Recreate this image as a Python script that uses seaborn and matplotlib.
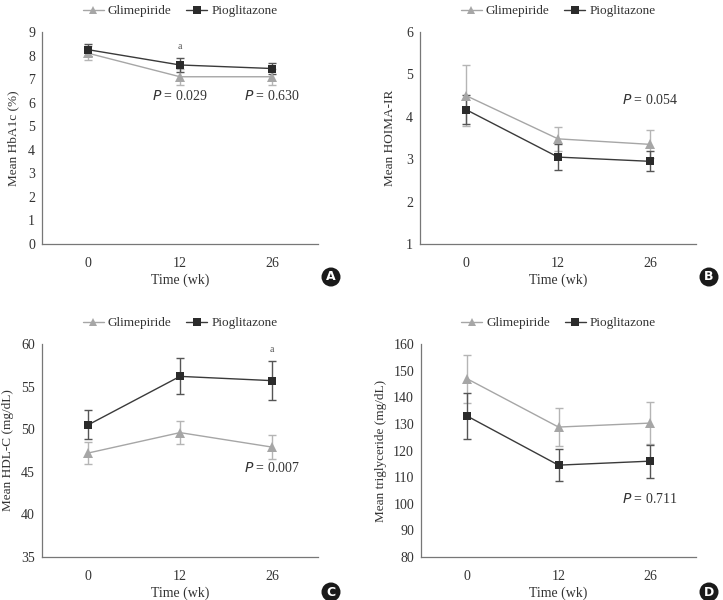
import matplotlib
matplotlib.use("Agg")
import matplotlib.pyplot as plt
import seaborn as sns
import pandas as pd
import numpy as np

sns.set_style("white")
plt.rcParams['font.family'] = ['Liberation Serif', 'DejaVu Serif']

weeks = ["0", "12", "26"]
groups = ["Glimepiride", "Pioglitazone"]

# Panel A: HbA1c
a_glim = [8.1, 7.1, 7.1]
a_glim_err = [0.3, 0.35, 0.35]
a_pio = [8.25, 7.6, 7.45]
a_pio_err = [0.25, 0.28, 0.25]

# Panel B: HOMA-IR
b_glim = [4.5, 3.48, 3.35]
b_glim_err = [0.72, 0.29, 0.33]
b_pio = [4.17, 3.05, 2.95]
b_pio_err = [0.34, 0.3, 0.24]

# Panel C: HDL-C
c_glim = [47.2, 49.6, 47.9]
c_glim_err = [1.3, 1.35, 1.4]
c_pio = [50.5, 56.2, 55.7]
c_pio_err = [1.7, 2.1, 2.3]

# Panel D: triglyceride
d_glim = [147.0, 128.8, 130.3]
d_glim_err = [9.0, 7.0, 7.8]
d_pio = [133.0, 114.5, 116.0]
d_pio_err = [8.5, 6.0, 6.2]

panels = [
    dict(letter="A", glim=a_glim, ge=a_glim_err, pio=a_pio, pe=a_pio_err,
         ylabel="Mean HbA1c (%)", ylim=(0, 9), yticks=list(range(0, 10)),
         pvals=[(1, 6.3, "0.029"), (2, 6.3, "0.630")], amark=[(1, 8.38)]),
    dict(letter="B", glim=b_glim, ge=b_glim_err, pio=b_pio, pe=b_pio_err,
         ylabel="Mean HOIMA-IR", ylim=(1, 6), yticks=list(range(1, 7)),
         pvals=[(2, 4.4, "0.054")], amark=[]),
    dict(letter="C", glim=c_glim, ge=c_glim_err, pio=c_pio, pe=c_pio_err,
         ylabel="Mean HDL-C (mg/dL)", ylim=(35, 60), yticks=list(range(35, 61, 5)),
         pvals=[(2, 45.4, "0.007")], amark=[(2, 59.3)]),
    dict(letter="D", glim=d_glim, ge=d_glim_err, pio=d_pio, pe=d_pio_err,
         ylabel="Mean triglyceride (mg/dL)", ylim=(80, 160), yticks=list(range(80, 161, 10)),
         pvals=[(2, 101.8, "0.711")], amark=[]),
]

W, H = 723, 600
fig = plt.figure(figsize=(W / 100, H / 100), dpi=100)

# axes rectangles in pixels: left, top, right, bottom
rects = [(42, 32, 318, 244), (420, 32, 696, 244), (42, 344, 318, 557), (421, 344, 696, 557)]
badges = [(331, 277), (709, 277), (331, 592), (709, 592)]
ylabel_x = [19, 396, 14, 387]

glim_color = "#a6a6a6"
pio_color = "#2b2b2b"
text_color = "#333333"

for p, (l, t, r, b), (bx, by), ylx in zip(panels, rects, badges, ylabel_x):
    ax = fig.add_axes([l / W, 1 - b / H, (r - l) / W, (b - t) / H])
    pos = np.arange(len(weeks))
    df = pd.DataFrame({
        "pos": np.concatenate([pos, pos]),
        "value": p["glim"] + p["pio"],
        "group": [groups[0]] * 3 + [groups[1]] * 3,
    })
    ax.errorbar(pos, p["glim"], yerr=p["ge"], fmt="none", ecolor="#b5b5b5",
                elinewidth=1.0, capsize=3, capthick=1.0, zorder=2)
    ax.errorbar(pos, p["pio"], yerr=p["pe"], fmt="none", ecolor="#555555",
                elinewidth=1.0, capsize=3, capthick=1.0, zorder=3)
    sns.lineplot(data=df, x="pos", y="value", hue="group", style="group",
                 markers={"Glimepiride": "^", "Pioglitazone": "s"}, dashes=False,
                 palette={"Glimepiride": glim_color, "Pioglitazone": pio_color},
                 markersize=7, linewidth=1.0, markeredgewidth=0, ax=ax, zorder=4)
    for ln in ax.get_lines():
        if ln.get_marker() == "s":
            ln.set_color("#3a3a3a")
            ln.set_markerfacecolor(pio_color)
            ln.set_markersize(6.2)
    ax.set_xlim(-0.5, 2.5)
    ax.set_ylim(*p["ylim"])
    ax.set_xticks(pos)
    ax.set_xticklabels(weeks)
    ax.set_yticks(p["yticks"])
    ax.set_xlabel("Time (wk)", fontsize=10, color=text_color, labelpad=3)
    ax.set_ylabel(p["ylabel"], fontsize=9.5, color=text_color)
    ax.yaxis.set_label_coords((ylx - l) / (r - l), 0.5)
    ax.tick_params(axis="both", direction="in", length=4, width=0.8, colors="#777777",
                   labelcolor=text_color, labelsize=10)
    ax.tick_params(axis="y", pad=5)
    ax.tick_params(axis="x", pad=9)
    for s in ["top", "right"]:
        ax.spines[s].set_visible(False)
    for s in ["left", "bottom"]:
        ax.spines[s].set_color("#777777")
        ax.spines[s].set_linewidth(0.9)
    leg = ax.legend(loc="lower center", bbox_to_anchor=(0.5, 1.045), ncol=2, frameon=False,
                    fontsize=9.5, handlelength=1.6, handletextpad=0.3, columnspacing=1.1,
                    borderaxespad=0, markerscale=0.85)
    for txt in leg.get_texts():
        txt.set_color(text_color)
    for (xi, yi, val) in p["pvals"]:
        ax.text(xi, yi, r"$\mathit{P}$" + " = " + val, ha="center", va="center",
                fontsize=10, color=text_color)
    for (xi, yi) in p["amark"]:
        ax.text(xi, yi, "a", ha="center", va="center", fontsize=7, color="#555555")
    # letter badge
    fig.patches.append(matplotlib.patches.Ellipse((bx / W, 1 - by / H), 19 / W, 19 / H,
                       transform=fig.transFigure, facecolor="#1a1a1a", edgecolor="none"))
    fig.text(bx / W, 1 - by / H, p["letter"], ha="center", va="center", color="white",
             fontsize=9, fontweight="bold", family="DejaVu Sans")

fig.savefig("out.png", dpi=100)
